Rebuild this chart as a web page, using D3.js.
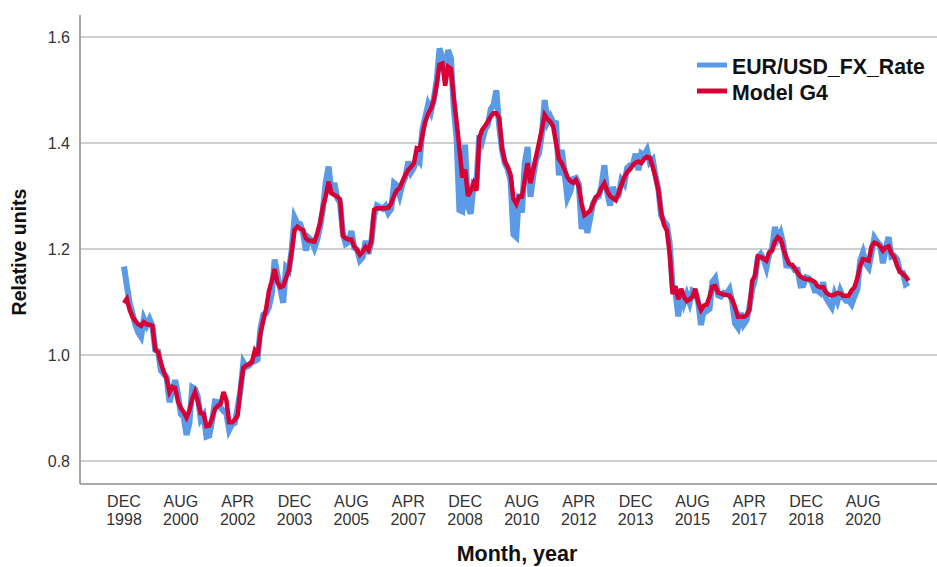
<!DOCTYPE html>
<html>
<head>
<meta charset="utf-8">
<script src="https://cdn.jsdelivr.net/npm/d3@7"></script>
<style>
  html, body { margin: 0; padding: 0; background: #fff; }
  svg { display: block; font-family: "Liberation Sans", Arial, sans-serif; }
</style>
</head>
<body>
<svg id="chart" width="937" height="567"></svg>
<script>
// Monthly series, first month December 1998, last month December 2021
const firstMonth = new Date(1998, 11, 1);

// EUR/USD exchange rate, end of month
const fxRate = [
  1.167,
  1.1305, 1.098, 1.078, 1.0575, 1.0425, 1.034, 1.0685, 1.056, 1.0675, 1.0545, 1.0095, 1.007,
  0.9705, 0.9645, 0.958, 0.911, 0.933, 0.9525, 0.926, 0.8885, 0.883, 0.849, 0.8705, 0.939,
  0.9355, 0.921, 0.8785, 0.8865, 0.846, 0.848, 0.876, 0.912, 0.911, 0.901, 0.894, 0.890,
  0.8585, 0.869, 0.872, 0.901, 0.9335, 0.9865, 0.9775, 0.9805, 0.987, 0.9885, 0.9915, 1.049,
  1.076, 1.079, 1.0905, 1.1165, 1.18, 1.15, 1.125, 1.0985, 1.165, 1.159, 1.199, 1.2595,
  1.248, 1.247, 1.23, 1.197, 1.221, 1.216, 1.202, 1.218, 1.242, 1.276, 1.327, 1.3555,
  1.304, 1.325, 1.2965, 1.287, 1.23, 1.2095, 1.213, 1.234, 1.2025, 1.199, 1.1785, 1.1845,
  1.2155, 1.191, 1.2125, 1.2625, 1.282, 1.279, 1.276, 1.2815, 1.268, 1.2755, 1.3245, 1.320,
  1.3015, 1.3235, 1.3355, 1.365, 1.345, 1.354, 1.370, 1.364, 1.426, 1.4485, 1.4725, 1.459,
  1.484, 1.518, 1.5785, 1.560, 1.530, 1.5755, 1.560, 1.467, 1.409, 1.2735, 1.271, 1.397,
  1.280, 1.2665, 1.325, 1.323, 1.415, 1.403, 1.425, 1.434, 1.4635, 1.472, 1.4995, 1.432,
  1.3865, 1.362, 1.351, 1.329, 1.2275, 1.2225, 1.3045, 1.2685, 1.362, 1.3925, 1.2985, 1.338,
  1.3695, 1.3805, 1.416, 1.481, 1.4395, 1.450, 1.439, 1.4375, 1.339, 1.387, 1.344, 1.296,
  1.308, 1.332, 1.334, 1.323, 1.2375, 1.2665, 1.2305, 1.2575, 1.286, 1.296, 1.299, 1.3195,
  1.358, 1.3065, 1.282, 1.317, 1.2995, 1.301, 1.330, 1.3225, 1.3525, 1.358, 1.359, 1.3795,
  1.3485, 1.3805, 1.377, 1.387, 1.3635, 1.369, 1.339, 1.3135, 1.263, 1.2525, 1.245, 1.210,
  1.129, 1.1195, 1.073, 1.1225, 1.0985, 1.1145, 1.0985, 1.121, 1.1175, 1.1005, 1.0565, 1.086,
  1.083, 1.087, 1.138, 1.145, 1.113, 1.1105, 1.1175, 1.1155, 1.124, 1.098, 1.059, 1.0515,
  1.0795, 1.0575, 1.0655, 1.0895, 1.124, 1.1425, 1.184, 1.1905, 1.1815, 1.1645, 1.1905, 1.2005,
  1.2415, 1.2195, 1.2305, 1.208, 1.169, 1.1685, 1.169, 1.160, 1.1605, 1.131, 1.1315, 1.1465,
  1.1445, 1.137, 1.1215, 1.1215, 1.117, 1.137, 1.1075, 1.0985, 1.090, 1.115, 1.1015, 1.1215,
  1.109, 1.1025, 1.103, 1.0955, 1.1105, 1.1235, 1.178, 1.1935, 1.172, 1.1645, 1.1925, 1.2215,
  1.2135, 1.2075, 1.173, 1.202, 1.2225, 1.1855, 1.187, 1.1805, 1.158, 1.156, 1.1335, 1.137
];

// Fitted values of model G4
const modelG4 = [
  1.098, 1.106, 1.085, 1.072, 1.064, 1.058, 1.055, 1.062, 1.058, 1.057,
  1.055, 1.010, 1.005, 0.985, 0.968, 0.955, 0.930, 0.940, 0.938, 0.912,
  0.900, 0.892, 0.882, 0.895, 0.917, 0.930, 0.912, 0.890, 0.889, 0.866,
  0.867, 0.880, 0.898, 0.904, 0.908, 0.930, 0.915, 0.873, 0.873, 0.878,
  0.886, 0.940, 0.976, 0.980, 0.983, 0.986, 1.008, 0.999, 1.040, 1.065,
  1.087, 1.121, 1.140, 1.162, 1.137, 1.128, 1.130, 1.145, 1.160, 1.195,
  1.236, 1.242, 1.238, 1.236, 1.220, 1.216, 1.215, 1.214, 1.230, 1.250,
  1.280, 1.300, 1.327, 1.305, 1.302, 1.299, 1.294, 1.225, 1.220, 1.218,
  1.218, 1.205, 1.198, 1.189, 1.195, 1.204, 1.198, 1.215, 1.274, 1.277,
  1.277, 1.277, 1.277, 1.278, 1.286, 1.300, 1.311, 1.315, 1.328, 1.340,
  1.349, 1.355, 1.362, 1.390, 1.388, 1.415, 1.440, 1.455, 1.465, 1.480,
  1.510, 1.548, 1.550, 1.508, 1.544, 1.540, 1.487, 1.440, 1.390, 1.335,
  1.350, 1.300, 1.310, 1.324, 1.310, 1.410, 1.425, 1.432, 1.440, 1.450,
  1.456, 1.456, 1.447, 1.390, 1.365, 1.355, 1.340, 1.295, 1.285, 1.299,
  1.299, 1.330, 1.362, 1.324, 1.350, 1.375, 1.400, 1.425, 1.453, 1.445,
  1.440, 1.431, 1.400, 1.370, 1.362, 1.350, 1.336, 1.328, 1.325, 1.330,
  1.318, 1.285, 1.264, 1.268, 1.272, 1.285, 1.298, 1.303, 1.315, 1.324,
  1.310, 1.300, 1.296, 1.292, 1.305, 1.321, 1.335, 1.345, 1.350, 1.358,
  1.363, 1.365, 1.362, 1.370, 1.374, 1.372, 1.355, 1.335, 1.310, 1.268,
  1.245, 1.235, 1.190, 1.115, 1.130, 1.105, 1.125, 1.110, 1.102, 1.105,
  1.110, 1.125, 1.100, 1.085, 1.093, 1.095, 1.110, 1.129, 1.130, 1.118,
  1.116, 1.114, 1.113, 1.112, 1.104, 1.090, 1.072, 1.072, 1.072, 1.075,
  1.085, 1.140, 1.150, 1.186, 1.185, 1.182, 1.178, 1.193, 1.197, 1.214,
  1.222, 1.218, 1.200, 1.184, 1.172, 1.170, 1.164, 1.155, 1.148, 1.145,
  1.143, 1.143, 1.141, 1.138, 1.130, 1.128, 1.128, 1.118, 1.114, 1.112,
  1.114, 1.117, 1.116, 1.112, 1.112, 1.112, 1.122, 1.128, 1.145, 1.168,
  1.181, 1.180, 1.178, 1.205, 1.212, 1.210, 1.205, 1.197, 1.203, 1.205,
  1.192, 1.184, 1.168, 1.157, 1.153, 1.148, 1.140
];

// Axis labels
const xTickMonths = ["DEC", "AUG", "APR", "DEC", "AUG", "APR", "DEC", "AUG", "APR", "DEC", "AUG", "APR", "DEC", "AUG"];
const xTickYears  = ["1998", "2000", "2002", "2003", "2005", "2007", "2008", "2010", "2012", "2013", "2015", "2017", "2018", "2020"];
const xTickStep = 20; // months between labelled ticks
const yTicks = [0.8, 1.0, 1.2, 1.4, 1.6];

const seriesNames = ["EUR/USD_FX_Rate", "Model G4"];
const seriesColors = ["#5b9ae6", "#d60036"];

const months = fxRate.map((_, i) => d3.timeMonth.offset(firstMonth, i));

const svg = d3.select("#chart");
const plot = { left: 80, right: 937, top: 15, bottom: 484 };

const x = d3.scalePoint()
  .domain(d3.range(months.length))
  .range([124, 908.5]);

const y = d3.scaleLinear()
  .domain([0.8, 1.6])
  .range([461, 37]);

// Gridlines
svg.append("g")
  .selectAll("line")
  .data(yTicks)
  .join("line")
  .attr("x1", plot.left).attr("x2", plot.right)
  .attr("y1", d => y(d)).attr("y2", d => y(d))
  .attr("stroke", "#cfcfcf")
  .attr("stroke-width", 2);

// Y axis labels
svg.append("g")
  .selectAll("text")
  .data(yTicks)
  .join("text")
  .attr("x", 70)
  .attr("y", d => y(d))
  .attr("dy", "0.35em")
  .attr("text-anchor", "end")
  .attr("font-size", 16)
  .attr("fill", "#333")
  .text(d => d3.format(".1f")(d));

// Axis frame
svg.append("line")
  .attr("x1", plot.left).attr("x2", plot.left)
  .attr("y1", plot.top).attr("y2", plot.bottom)
  .attr("stroke", "#8f8f8f").attr("stroke-width", 1.6);
svg.append("line")
  .attr("x1", plot.left).attr("x2", plot.right)
  .attr("y1", plot.bottom).attr("y2", plot.bottom)
  .attr("stroke", "#8f8f8f").attr("stroke-width", 1.6);

// X axis labels (two lines: month, year)
const xt = svg.append("g")
  .selectAll("text")
  .data(xTickMonths.map((m, i) => ({ m, yr: xTickYears[i], idx: i * xTickStep })))
  .join("text")
  .attr("text-anchor", "middle")
  .attr("font-size", 16)
  .attr("fill", "#333");
xt.append("tspan").attr("x", d => x(d.idx)).attr("y", 507).text(d => d.m);
xt.append("tspan").attr("x", d => x(d.idx)).attr("y", 525).text(d => d.yr);

// Series lines
const line = d3.line()
  .x((d, i) => x(i))
  .y(d => y(d));

svg.append("path")
  .datum(fxRate)
  .attr("d", line)
  .attr("fill", "none")
  .attr("stroke", seriesColors[0])
  .attr("stroke-width", 6)
  .attr("stroke-linejoin", "miter")
  .attr("stroke-miterlimit", 4);

svg.append("path")
  .datum(modelG4)
  .attr("d", line)
  .attr("fill", "none")
  .attr("stroke", seriesColors[1])
  .attr("stroke-width", 4.5)
  .attr("stroke-linejoin", "miter")
  .attr("stroke-miterlimit", 3);

// Legend
const legend = svg.append("g");
seriesNames.forEach((name, i) => {
  const ly = 67 + i * 26;
  legend.append("line")
    .attr("x1", 697).attr("x2", 727)
    .attr("y1", ly - 2).attr("y2", ly - 2)
    .attr("stroke", seriesColors[i])
    .attr("stroke-width", 5);
  legend.append("text")
    .attr("x", 732).attr("y", ly)
    .attr("dy", "0.35em")
    .attr("font-size", 21.3)
    .attr("font-weight", "bold")
    .attr("fill", "#111")
    .text(name);
});

// Axis titles
svg.append("text")
  .attr("transform", `translate(26, 252) rotate(-90)`)
  .attr("text-anchor", "middle")
  .attr("font-size", 19.5)
  .attr("font-weight", "bold")
  .attr("fill", "#111")
  .text("Relative units");

svg.append("text")
  .attr("x", 517).attr("y", 561)
  .attr("text-anchor", "middle")
  .attr("font-size", 21.5)
  .attr("font-weight", "bold")
  .attr("fill", "#111")
  .text("Month, year");
</script>
</body>
</html>
